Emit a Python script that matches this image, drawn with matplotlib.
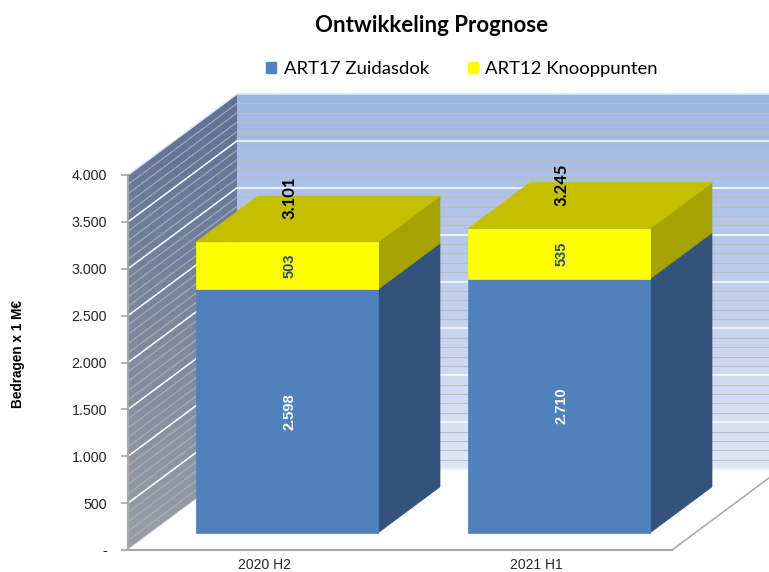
import matplotlib
matplotlib.use('Agg')
import matplotlib.pyplot as plt
import numpy as np
from matplotlib.colors import LinearSegmentedColormap
from matplotlib.patches import Patch, Polygon

categories = ['2020 H2', '2021 H1']
art17 = [2598, 2710]
art12 = [503, 535]
totals = [3101, 3245]
y_ticks = [0, 500, 1000, 1500, 2000, 2500, 3000, 3500, 4000]
y_labels = ['-', '500', '1.000', '1.500', '2.000', '2.500', '3.000', '3.500', '4.000']

# oblique depth of the plot box, in data units
depth_x = 0.4007
depth_y = 864
bar_width = 0.669
bar_front = 0.21
bar_back = 0.78
label_lift = 470
label_nudge = 0.01

BLUE, BLUE_SIDE = '#4F81BD', '#32537B'
YELLOW, YELLOW_TOP, YELLOW_SIDE = '#FFFF00', '#C4C000', '#A6A200'


def pr(x, v, d):
    return (x + d * depth_x, v + d * depth_y)


def face(ax, pts, color, z):
    ax.add_patch(Polygon(pts, closed=True, fc=color, ec=color, lw=0.5, zorder=z, clip_on=False))


def wall(ax, pts, top_col, bot_col):
    xs = [p[0] for p in pts]
    ys = [p[1] for p in pts]
    cmap = LinearSegmentedColormap.from_list('w', [top_col, bot_col])
    grad = np.linspace(0, 1, 256).reshape(-1, 1)
    im = ax.imshow(grad, cmap=cmap, aspect='auto', zorder=1,
                   extent=(min(xs), max(xs), min(ys), max(ys)))
    clip = Polygon(pts, closed=True, transform=ax.transData, fc='none', ec='none', clip_on=False)
    ax.add_patch(clip)
    im.set_clip_box(fig.bbox)
    im.set_clip_path(clip)


fig = plt.figure(figsize=(7.69, 5.72), dpi=100)
ax = fig.add_axes([128 / 769, 22 / 572, 544 / 769, 375 / 572])
ax.patch.set_visible(False)

# walls
wall(ax, [pr(0, 0, 1), pr(2, 0, 1), pr(2, 4000, 1), pr(0, 4000, 1)], '#9DB6E2', '#DFE6F6')
wall(ax, [pr(0, 0, 0), pr(0, 0, 1), pr(0, 4000, 1), pr(0, 4000, 0)], '#5D7196', '#9A9EA6')

# gridlines on both walls
for v in range(0, 4001, 100):
    major = v % 500 == 0
    back_col = '#FFFFFF' if major else '#BDBDBD'
    side_col = '#FFFFFF' if major else '#ABB0B8'
    if v == 0:
        back_col = side_col = '#EEF1FA'
    if v == 4000:
        back_col = side_col = '#DDE5F5'
    lw = 1.1 if major else 0.75
    a, b, c = pr(0, v, 0), pr(0, v, 1), pr(2, v, 1)
    ax.plot([a[0], b[0]], [a[1], b[1]], color=side_col, lw=lw, zorder=2, clip_on=False)
    ax.plot([b[0], c[0]], [b[1], c[1]], color=back_col, lw=lw, zorder=2, clip_on=False)

# floor edge going back on the right
a, b = pr(2, 0, 0), pr(2, 0, 1)
ax.plot([a[0], b[0]], [a[1], b[1]], color='#A6A6A6', lw=1.1, zorder=2, clip_on=False)

# bars
for i, cat in enumerate(categories):
    left = i + 0.5 - bar_width / 2
    right = i + 0.5 + bar_width / 2
    h1 = art17[i]
    h2 = totals[i]
    # sides
    face(ax, [pr(right, 0, bar_front), pr(right, 0, bar_back),
              pr(right, h1, bar_back), pr(right, h1, bar_front)], BLUE_SIDE, 3)
    face(ax, [pr(right, h1, bar_front), pr(right, h1, bar_back),
              pr(right, h2, bar_back), pr(right, h2, bar_front)], YELLOW_SIDE, 3)
    # top
    face(ax, [pr(left, h2, bar_front), pr(right, h2, bar_front),
              pr(right, h2, bar_back), pr(left, h2, bar_back)], YELLOW_TOP, 3)
    # front
    face(ax, [pr(left, 0, bar_front), pr(right, 0, bar_front),
              pr(right, h1, bar_front), pr(left, h1, bar_front)], BLUE, 4)
    face(ax, [pr(left, h1, bar_front), pr(right, h1, bar_front),
              pr(right, h2, bar_front), pr(left, h2, bar_front)], YELLOW, 4)

    cx = pr(i + 0.5, 0, bar_front)[0] + label_nudge
    base = pr(0, 0, bar_front)[1]
    ax.text(cx, base + h1 / 2, f'{h1:,}'.replace(',', '.'), rotation=90, ha='center', va='center',
            color='white', fontsize=10.5, fontweight='bold', family='Liberation Sans', zorder=6)
    ax.text(cx, base + h1 + art12[i] / 2, str(art12[i]), rotation=90, ha='center', va='center',
            color='#2F5068', fontsize=10.5, fontweight='bold', family='Liberation Sans', zorder=6)
    ax.text(cx, base + h2 + label_lift, f'{h2:,}'.replace(',', '.'), rotation=90, ha='center', va='center',
            color='black', fontsize=12, fontweight='bold', family='Lato', zorder=6)

ax.set_xlim(0, 2)
ax.set_ylim(0, 4000)
ax.set_xticks([0.5, 1.5], categories)
ax.set_yticks(y_ticks, y_labels)
ax.tick_params(axis='x', length=0, pad=5.8, labelsize=10, labelcolor='#262626')
ax.tick_params(axis='y', length=5, width=1.2, color='#A6A6A6', pad=10, labelsize=10.3, labelcolor='#262626')
for lab in ax.get_xticklabels() + ax.get_yticklabels():
    lab.set_family('Liberation Sans')
for s in ['top', 'right']:
    ax.spines[s].set_visible(False)
for s in ['left', 'bottom']:
    ax.spines[s].set_color('#A6A6A6')
    ax.spines[s].set_linewidth(1.5)
    ax.spines[s].set_zorder(5)

fig.text(18 / 769, 1 - 354 / 572, 'Bedragen x 1 M€', rotation=90, ha='center', va='center',
         fontsize=9.8, fontweight='bold', family='Liberation Sans')
fig.text(432 / 769, 1 - 25 / 572, 'Ontwikkeling Prognose', ha='center', va='center',
         fontsize=16, fontweight='bold', family='Lato')

handles = [Patch(color=BLUE, label='ART17 Zuidasdok'), Patch(color=YELLOW, label='ART12 Knooppunten')]
fig.legend(handles=handles, ncol=2, frameon=False, loc='center', bbox_to_anchor=(462 / 769, 1 - 69 / 572),
           prop={'family': 'Lato', 'size': 13.3}, handlelength=0.55, handleheight=0.55,
           handletextpad=0.4, columnspacing=2.1)

fig.savefig('out.png', dpi=100)
